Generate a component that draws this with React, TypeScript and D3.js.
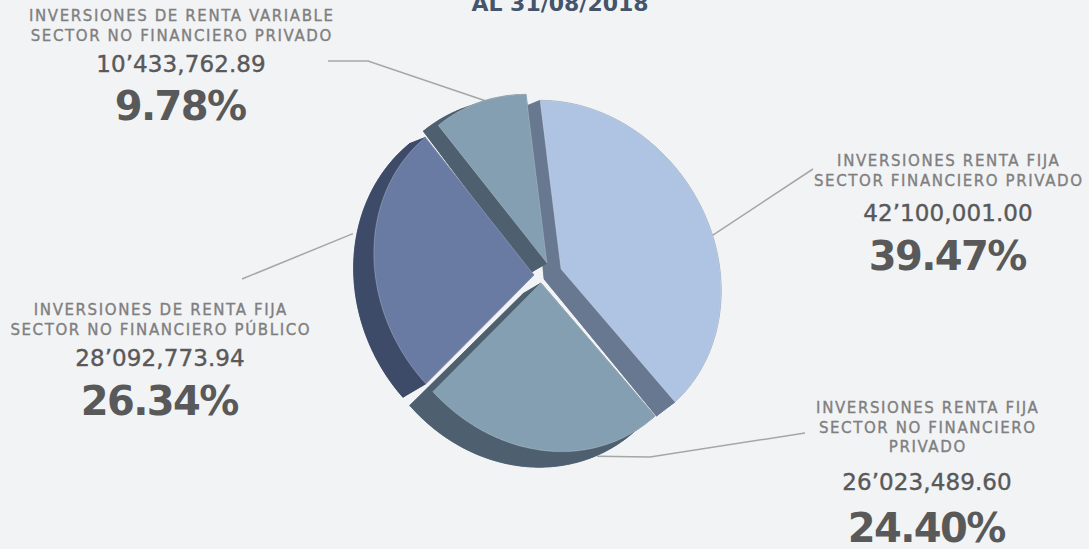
import React from 'react';
import * as d3 from 'd3';

// ---------- data ----------
const title = 'AL 31/08/2018';
const categories: string[][] = [
  ['INVERSIONES RENTA FIJA', 'SECTOR FINANCIERO PRIVADO'],
  ['INVERSIONES RENTA FIJA', 'SECTOR NO FINANCIERO', 'PRIVADO'],
  ['INVERSIONES DE RENTA FIJA', 'SECTOR NO FINANCIERO PÚBLICO'],
  ['INVERSIONES DE RENTA VARIABLE', 'SECTOR NO FINANCIERO PRIVADO'],
];
const amounts = [42100001.0, 26023489.6, 28092773.94, 10433762.89];

// ---------- style / layout ----------
const W = 1089;
const H = 549;
const BG = '#f2f3f5';
const FACE = ['#afc4e2', '#849fb1', '#6a7ba3', '#849fb1'];
const SIDE = ['#687890', '#4e6070', '#3d4b69', '#4e6070'];
const CENTER: [number, number] = [546, 272];
const M = [[160, 7], [14.4, 168]]; // projection of unit disk onto screen
const START = (-5 * Math.PI) / 180;
const EXPLODE: [number, number][] = [[15, -3], [-5, 11], [-12, 3], [1, -9]];
const depth = (x: number, y: number): [number, number] => [
  -12 - 0.03 * (y - 100) + 0.02 * (x - 550),
  5 + 0.03 * (y - 100),
];
const ANCHOR: [number, number][] = [[0.553, 1.0], [0.295, 1.05], [0.555, 1.135], [0.6, 0.985]];
const LEADER: [number, number][][] = [
  [[813, 169]],
  [[805, 433], [650, 457]],
  [[242, 279]],
  [[328, 61], [368, 61]],
];
const LABEL = [
  { cx: 948, lines: 166, value: 221, pct: 270 },
  { cx: 927, lines: 413, value: 490, pct: 542 },
  { cx: 160, lines: 315, value: 366, pct: 415 },
  { cx: 181, lines: 21, value: 72, pct: 120 },
];
const SIDE_ORDER = [0, 3, 1, 2];
const FONT = "'DejaVu Sans', sans-serif";

const fmtAmount = (v: number) => {
  const parts = d3.format(',.2f')(v).split(',');
  return parts[0] + '\u2019' + parts.slice(1).join(',');
};

export default function App() {
  const total = d3.sum(amounts);
  const arcs = d3
    .pie<number>()
    .sort(null)
    .startAngle(START)
    .endAngle(START + 2 * Math.PI)(amounts);

  const line = d3.line<[number, number]>().x((d) => d[0]).y((d) => d[1]);

  const apex = (i: number): [number, number] => [CENTER[0] + EXPLODE[i][0], CENTER[1] + EXPLODE[i][1]];
  const rim = (i: number, a: number, r = 1): [number, number] => {
    const [ax, ay] = apex(i);
    const u = r * Math.sin(a);
    const w = -r * Math.cos(a);
    return [ax + M[0][0] * u + M[0][1] * w, ay + M[1][0] * u + M[1][1] * w];
  };
  const down = (p: [number, number]): [number, number] => {
    const v = depth(p[0], p[1]);
    return [p[0] + v[0], p[1] + v[1]];
  };

  const slices = arcs.map((arc, i) => {
    const n = Math.max(8, Math.ceil(((arc.endAngle - arc.startAngle) * 180) / Math.PI));
    const pts: [number, number][] = d3
      .range(n + 1)
      .map((k) => rim(i, arc.startAngle + ((arc.endAngle - arc.startAngle) * k) / n));
    const c = apex(i);
    const top = line([c, ...pts])! + 'Z';
    const bottomPts = pts.map(down);
    const cB = down(c);
    const bottom = line([cB, ...bottomPts])! + 'Z';
    const band = line([...pts, ...bottomPts.slice().reverse()])! + 'Z';
    const r1 = line([c, pts[0], bottomPts[0], cB])! + 'Z';
    const r2 = line([c, pts[n], bottomPts[n], cB])! + 'Z';
    return { top, sides: [bottom, band, r1, r2] };
  });

  return (
    <svg
      width={W}
      height={H}
      viewBox={`0 0 ${W} ${H}`}
      style={{ position: 'absolute', left: 0, top: 0, display: 'block', background: BG }}
    >
      <rect x={0} y={0} width={W} height={H} fill={BG} />
      <text x={560} y={11} textAnchor="middle" fontFamily={FONT} fontWeight="bold" fontSize={22} fill="#44546a">
        {title}
      </text>

      {/* leader lines */}
      {arcs.map((arc, i) => {
        const a = arc.startAngle + (arc.endAngle - arc.startAngle) * ANCHOR[i][0];
        const p = rim(i, a, ANCHOR[i][1]);
        return (
          <path
            key={'ld' + i}
            d={line([...LEADER[i], p])!}
            fill="none"
            stroke="#a6a6a6"
            strokeWidth={1.5}
          />
        );
      })}

      {/* side walls */}
      {SIDE_ORDER.map((i) => (
        <g key={'s' + i} fill={SIDE[i]} stroke={SIDE[i]} strokeWidth={0.6} strokeLinejoin="round">
          {slices[i].sides.map((d, k) => (
            <path key={k} d={d} />
          ))}
        </g>
      ))}

      {/* top faces */}
      {slices.map((s, i) => (
        <path key={'t' + i} d={s.top} fill={FACE[i]} stroke="rgba(255,255,255,0.35)" strokeWidth={0.7} />
      ))}

      {/* labels */}
      {arcs.map((arc, i) => {
        const L = LABEL[i];
        const pct = d3.format('.2f')((amounts[i] / total) * 100) + '%';
        return (
          <g key={'lb' + i} fontFamily={FONT} textAnchor="middle">
            {categories[i].map((t, k) => (
              <text
                key={k}
                x={L.cx + 0.8}
                y={L.lines + k * 19.7}
                fontSize={15}
                letterSpacing={1.6}
                fill="#7f7f7f"
                stroke="#7f7f7f"
                strokeWidth={0.35}
              >
                {t}
              </text>
            ))}
            <text
              x={L.cx}
              y={L.value}
              fontSize={23}
              letterSpacing={0.1}
              fill="#595959"
              stroke="#595959"
              strokeWidth={0.4}
            >
              {fmtAmount(amounts[i])}
            </text>
            <text x={L.cx - 0.8} y={L.pct} fontSize={40} fontWeight="bold" letterSpacing={-1.6} fill="#595959">
              {pct}
            </text>
          </g>
        );
      })}
    </svg>
  );
}
